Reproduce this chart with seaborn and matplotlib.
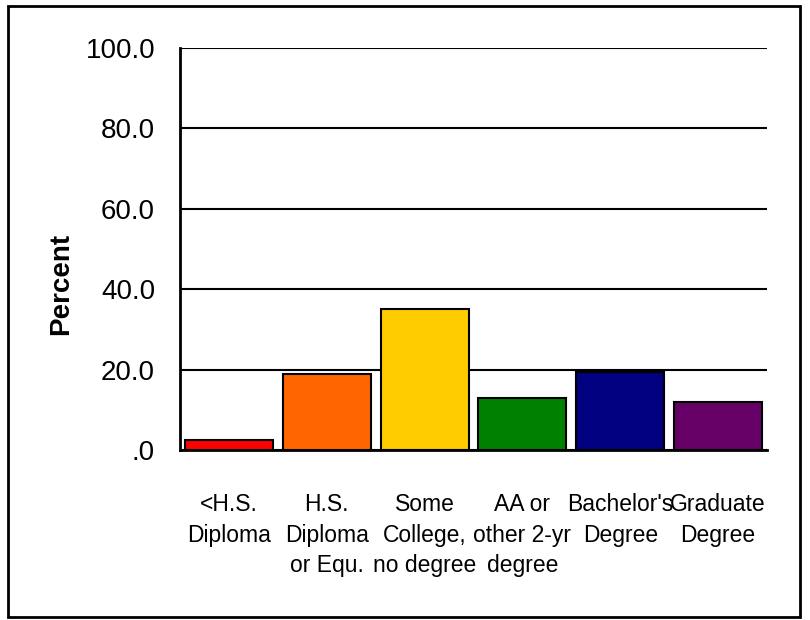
import matplotlib
matplotlib.use("Agg")
import matplotlib.pyplot as plt
import seaborn as sns
import pandas as pd
from matplotlib.patches import Rectangle

categories = ["<H.S.\nDiploma", "H.S.\nDiploma\nor Equ.", "Some\nCollege,\nno degree",
              "AA or\nother 2-yr\ndegree", "Bachelor's\nDegree", "Graduate\nDegree"]
percents = [2.4, 18.8, 35.0, 13.0, 19.5, 11.9]
colors = ["#FF0000", "#FF6600", "#FFCC00", "#008000", "#000080", "#660066"]
yticks = [0, 20, 40, 60, 80, 100]
ytick_labels = [".0", "20.0", "40.0", "60.0", "80.0", "100.0"]

sns.set_theme(style="white")
plt.rcParams["font.family"] = ["Liberation Sans", "DejaVu Sans"]
plt.rcParams["text.color"] = "black"
plt.rcParams["xtick.color"] = "black"
plt.rcParams["ytick.color"] = "black"
plt.rcParams["axes.labelcolor"] = "black"

df = pd.DataFrame({"cat": categories, "pct": percents})

fig = plt.figure(figsize=(8.1, 6.2), dpi=100)
ax = fig.add_axes([180 / 810, 1 - 450 / 620, 587 / 810, 402 / 620])

sns.barplot(data=df, x="cat", y="pct", hue="cat", palette=colors, legend=False,
            width=0.9, edgecolor="black", linewidth=1.5, saturation=1, ax=ax, zorder=3)

ax.set_ylim(0, 100)
ax.set_xlim(-0.5, len(categories) - 0.5)
ax.set_yticks(yticks)
ax.set_yticklabels(ytick_labels, fontsize=20)
ax.set_xticks(range(len(categories)))
ax.set_xticklabels(categories, fontsize=16.5, linespacing=1.42)
ax.set_xticks([i - 0.5 for i in range(len(categories) + 1)], minor=True)

ax.tick_params(axis="x", which="major", length=0, pad=31)
ax.tick_params(axis="x", which="minor", length=6, width=1.5, color="black", direction="out")
ax.tick_params(axis="y", length=8, width=1.5, color="black", direction="out", pad=10)

ax.yaxis.grid(True, color="black", linewidth=1.5, zorder=0)
ax.set_axisbelow(True)
for side in ["top", "right"]:
    ax.spines[side].set_visible(False)
for side in ["left", "bottom"]:
    ax.spines[side].set_color("black")
    ax.spines[side].set_linewidth(2)

ax.set_xlabel("")
ax.set_ylabel("Percent", fontsize=20, fontweight="bold")
ax.yaxis.set_label_coords(-0.18, 0.413)

# outer frame around the whole figure
fig.patches.append(Rectangle((8 / 810, 1 - 617 / 620), 792 / 810, 611 / 620,
                             transform=fig.transFigure, fill=False,
                             edgecolor="black", linewidth=2))

fig.savefig("out.png", dpi=100)
